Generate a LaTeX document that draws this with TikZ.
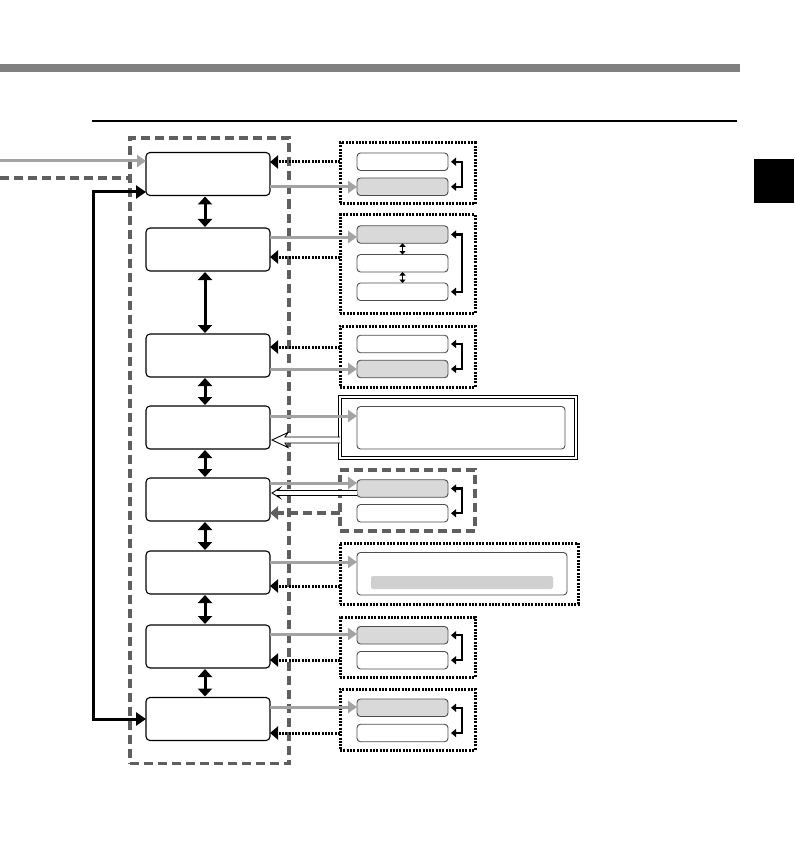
\documentclass[tikz,border=0pt]{standalone}
\usetikzlibrary{arrows.meta,calc}
\definecolor{arrgray}{HTML}{A3A3A3}
\definecolor{dashgray}{HTML}{5F5F5F}
\definecolor{fillgray}{HTML}{D9D9D9}
\definecolor{bargray}{HTML}{808080}
\definecolor{edgegray}{HTML}{4D4D4D}
\definecolor{bargraylt}{HTML}{D0D0D0}
\begin{document}
\begin{tikzpicture}[x=1pt,y=-1pt,
  mainbox/.style={draw=black, line width=1.1pt, rounded corners=4pt, minimum width=124pt, minimum height=43pt, inner sep=0pt, outer sep=0pt},
  smallbox/.style={draw=edgegray, line width=0.9pt, rounded corners=3.5pt, minimum width=91pt, minimum height=17.5pt, inner sep=0pt, outer sep=0pt},
  graybox/.style={smallbox, fill=fillgray},
  widebox/.style={draw=edgegray, line width=0.9pt, rounded corners=3.5pt, minimum height=42.5pt, inner sep=0pt, outer sep=0pt},
  dotframe/.style={draw=black, line width=3pt, dash pattern=on 2pt off 1.3pt, minimum width=135pt, minimum height=61pt, inner sep=0pt, outer sep=0pt},
  dashframe/.style={draw=dashgray, line width=3.5pt, dash pattern=on 9pt off 5pt, inner sep=0pt, outer sep=0pt},
  grayarr/.style={draw=arrgray, line width=3pt, -{Triangle[length=9pt,width=12pt]}},
  dotarr/.style={draw=black, line width=3pt, dash pattern=on 2pt off 1.3pt, -{Triangle[length=8pt,width=13pt]}},
  dasharr/.style={draw=dashgray, line width=3.5pt, dash pattern=on 9pt off 5pt, -{Triangle[length=8pt,width=13pt]}},
  vdbl/.style={draw=black, line width=3pt, {Triangle[length=8pt,width=14pt]}-{Triangle[length=8pt,width=14pt]}},
  sdbl/.style={draw=black, line width=1.5pt, {Triangle[length=3.5pt,width=6pt]}-{Triangle[length=3.5pt,width=6pt]}},
  brk/.style={draw=black, line width=2.2pt, {Triangle[length=5pt,width=8pt]}-{Triangle[length=5pt,width=8pt]}},
  loopline/.style={draw=black, line width=3pt, {Triangle[length=10pt,width=13pt]}-{Triangle[length=10pt,width=13pt]}},
  openarr/.style={draw=black, line width=0.9pt, fill=white, line join=miter}
]
\useasboundingbox (0,0) rectangle (794,850);

% header bar, rule and thumb tab
\fill[bargray] (0,64) rectangle (740,72);
\draw[line width=2pt] (92,121) -- (737,121);
\fill[black] (754,159) rectangle (794,203);

% main dashed frame
\node[dashframe, minimum width=159pt, minimum height=625.5pt] (mf) at (209.5,450.75) {};

% main boxes
\node[mainbox] (b1) at (208,174) {};
\node[mainbox] (b2) at (208,249.5) {};
\node[mainbox] (b3) at (208,355.5) {};
\node[mainbox] (b4) at (208,427.5) {};
\node[mainbox] (b5) at (208,499.5) {};
\node[mainbox] (b6) at (208,572.5) {};
\node[mainbox] (b7) at (208,646.5) {};
\node[mainbox] (b8) at (208,719) {};

% vertical double arrows
\foreach \a/\b in {b1/b2,b2/b3,b3/b4,b4/b5,b5/b6,b6/b7,b7/b8}
  \draw[vdbl, shorten <=1pt, shorten >=1pt] ([xshift=-3pt]\a.south) -- ([xshift=-3pt]\b.north);

% incoming lines on the left
\coordinate (in1) at (0,161);
\coordinate (in2) at (0,178);
\coordinate (lx) at (93,0);
\draw[grayarr] (in1) -- (in1 -| b1.west);
\draw[draw=dashgray, line width=3.5pt, dash pattern=on 9pt off 5pt] (in2) -- (in2 -| mf.west);
\coordinate (lp) at ($(b1.west)+(0,18)$);
\draw[loopline] (b8.west) -- (b8.west -| lx) |- (lp);

% frames on the right
\node[dotframe] (f1) at (407.5,173.5) {};
\node[dotframe, minimum height=98pt] (f2) at (407.5,264) {};
\node[dotframe] (f3) at (407.5,356.5) {};
\node[draw=black, line width=0.9pt, double=white, double distance=2.4pt, minimum width=235.7pt, minimum height=61pt, inner sep=0pt, outer sep=0pt] (f4) at (457.85,427.2) {};
\node[dashframe, minimum width=135pt, minimum height=61pt] (f5) at (407.5,500.5) {};
\node[dotframe, minimum width=238pt] (f6) at (459,573.5) {};
\node[dotframe, minimum height=60pt] (f7) at (407.5,647) {};
\node[dotframe] (f8) at (407.5,719.5) {};

% small boxes
\node[smallbox] (s1a) at (402.5,161.75) {};
\node[graybox]  (s1b) at (402.5,186.75) {};
\node[graybox]  (s2a) at (402.5,234.5) {};
\node[smallbox] (s2b) at (402.5,263.25) {};
\node[smallbox] (s2c) at (402.5,291.75) {};
\node[smallbox] (s3a) at (402.5,344) {};
\node[graybox]  (s3b) at (402.5,369) {};
\node[widebox, minimum width=208pt] (s4) at (461,427.75) {};
\node[graybox]  (s5a) at (402.5,488.5) {};
\node[smallbox] (s5b) at (402.5,513.25) {};
\node[widebox, minimum width=210pt] (s6) at (462,573.75) {};
\node[fill=bargraylt, rounded corners=2pt, minimum width=182pt, minimum height=13pt, inner sep=0pt] (s6bar) at (462,582.5) {};
\node[graybox]  (s7a) at (402.5,635.25) {};
\node[smallbox] (s7b) at (402.5,660.25) {};
\node[graybox]  (s8a) at (402.5,707.75) {};
\node[smallbox] (s8b) at (402.5,733) {};

% brackets
\draw[brk] ([xshift=3pt]s1a.east) -- ++(11,0) |- ([xshift=3pt]s1b.east);
\draw[brk] ([xshift=3pt]s2a.east) -- ++(11,0) |- ([xshift=3pt]s2c.east);
\draw[brk] ([xshift=3pt]s3a.east) -- ++(11,0) |- ([xshift=3pt]s3b.east);
\draw[brk] ([xshift=3pt]s5a.east) -- ++(11,0) |- ([xshift=3pt]s5b.east);
\draw[brk] ([xshift=3pt]s7a.east) -- ++(11,0) |- ([xshift=3pt]s7b.east);
\draw[brk] ([xshift=3pt]s8a.east) -- ++(11,0) |- ([xshift=3pt]s8b.east);
\draw[sdbl] (s2a.south) -- (s2b.north);
\draw[sdbl] (s2b.north |- s2b.south) -- (s2c.north);

% row coordinates on the main boxes
\coordinate (r1g) at ($(b1.east)+(0,13)$);
\coordinate (r1d) at ($(b1.east)+(0,-12)$);
\coordinate (r2g) at ($(b2.east)+(0,-12.5)$);
\coordinate (r2d) at ($(b2.east)+(0,7.5)$);
\coordinate (r3d) at ($(b3.east)+(0,-8.5)$);
\coordinate (r3g) at ($(b3.east)+(0,13.5)$);
\coordinate (r4g) at ($(b4.east)+(0,-11.5)$);
\coordinate (r4w) at ($(b4.east)+(0,12.5)$);
\coordinate (r5g) at ($(b5.east)+(0,-16.5)$);
\coordinate (r5w) at ($(b5.east)+(0,-6.5)$);
\coordinate (r5d) at ($(b5.east)+(0,13.5)$);
\coordinate (r6g) at ($(b6.east)+(0,-10.5)$);
\coordinate (r6d) at ($(b6.east)+(0,13.5)$);
\coordinate (r7g) at ($(b7.east)+(0,-12.5)$);
\coordinate (r7d) at ($(b7.east)+(0,13.5)$);
\coordinate (r8g) at ($(b8.east)+(0,-12)$);
\coordinate (r8d) at ($(b8.east)+(0,14)$);

% gray arrows
\draw[grayarr] (r1g) -- (r1g -| s1b.west);
\draw[grayarr] (r2g) -- (r2g -| s2a.west);
\draw[grayarr] (r3g) -- (r3g -| s3b.west);
\draw[grayarr] (r4g) -- (r4g -| s4.west);
\draw[grayarr] (r5g) -- (r5g -| s5a.west);
\draw[grayarr] (r6g) -- (r6g -| s6.west);
\draw[grayarr] (r7g) -- (r7g -| s7a.west);
\draw[grayarr] (r8g) -- (r8g -| s8a.west);

% dotted return arrows
\draw[dotarr] (r1d -| f1.west) -- (r1d);
\draw[dotarr] (r2d -| f2.west) -- (r2d);
\draw[dotarr] (r3d -| f3.west) -- (r3d);
\draw[dotarr] (r6d -| f6.west) -- (r6d);
\draw[dotarr] (r7d -| f7.west) -- (r7d);
\draw[dotarr] (r8d -| f8.west) -- (r8d);
\draw[dasharr] (r5d -| f5.west) -- (r5d);

% open (hollow) arrows
\coordinate (e4) at (r4w -| f4.west);
\coordinate (t4) at ($(r4w)+(2,0)$);
\draw[openarr] ($(e4)+(0,-3)$) -- ($(t4)+(13,-3)$) -- ($(t4)+(16,-7.5)$) -- (t4)
  -- ($(t4)+(16,7.5)$) -- ($(t4)+(13,3)$) -- ($(e4)+(0,3)$);
\coordinate (e5) at (r5w -| s5a.west);
\coordinate (t5) at ($(r5w)+(2,0)$);
\draw[openarr] ($(e5)+(0,-2.5)$) -- ($(t5)+(6,-2.5)$) -- ($(t5)+(8,-5)$) -- (t5)
  -- ($(t5)+(8,5)$) -- ($(t5)+(6,2.5)$) -- ($(e5)+(0,2.5)$);
\end{tikzpicture}
\end{document}
